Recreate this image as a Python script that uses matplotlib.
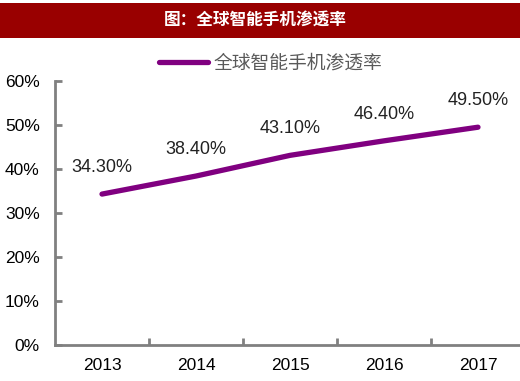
import matplotlib.pyplot as plt
import matplotlib.patches as patches

plt.rcParams['font.family'] = ['Liberation Sans', 'Noto Sans CJK SC', 'DejaVu Sans']

years = ["2013", "2014", "2015", "2016", "2017"]
rate = [34.3, 38.4, 43.1, 46.4, 49.5]
labels = ["34.30%", "38.40%", "43.10%", "46.40%", "49.50%"]
title = "图：全球智能手机渗透率"
series_name = "全球智能手机渗透率"

W, H = 520, 381
fig = plt.figure(figsize=(W / 100, H / 100), dpi=100)

# red title bar
bar = patches.Rectangle((0, 1 - 38 / H), 1, 35 / H, transform=fig.transFigure,
                        facecolor='#990000', edgecolor='none')
fig.patches.append(bar)
fig.text(255 / W, 1 - 21 / H, title, color='white', fontsize=12, fontweight='bold',
         ha='center', va='center', family=['Noto Sans CJK SC', 'DejaVu Sans'])

ax = fig.add_axes([55 / W, 1 - 345 / H, 470 / W, 264 / H])
x = range(len(years))
ax.plot(x, rate, color='#800080', lw=3.8, solid_capstyle='round', label=series_name)
for i, v in enumerate(rate):
    ax.annotate(labels[i], (i, v), xytext=(0, 13), textcoords='offset points',
                ha='center', va='bottom', fontsize=13, color='#222222')

ax.set_xlim(-0.5, len(years) - 0.5)
ax.set_ylim(0, 60)
ax.set_yticks(range(0, 61, 10))
ax.set_yticklabels([f"{t}%" for t in range(0, 61, 10)])
ax.set_xticks([i + 0.5 for i in range(len(years) - 1)], minor=False)
ax.set_xticklabels([])
ax.set_xticks(list(x), minor=True)
ax.set_xticklabels(years, minor=True)
ax.tick_params(axis='x', which='minor', length=0, labelsize=12.5, pad=9)
ax.tick_params(axis='x', which='major', direction='in', length=5, width=2, color='#808080')
ax.tick_params(axis='y', direction='in', length=5, width=2, color='#808080',
               labelsize=12.5, pad=11)

for s in ['top', 'right']:
    ax.spines[s].set_visible(False)
for s in ['left', 'bottom']:
    ax.spines[s].set_color('#808080')
    ax.spines[s].set_linewidth(2)

leg = ax.legend(loc='center', bbox_to_anchor=(216 / 470, 1 + 18 / 264), frameon=False,
                handlelength=2.6, handletextpad=0.3,
                prop={'family': ['Noto Sans CJK SC', 'DejaVu Sans'], 'size': 13.5})
for t in leg.get_texts():
    t.set_color('#595959')

fig.savefig("out.png", dpi=100)
